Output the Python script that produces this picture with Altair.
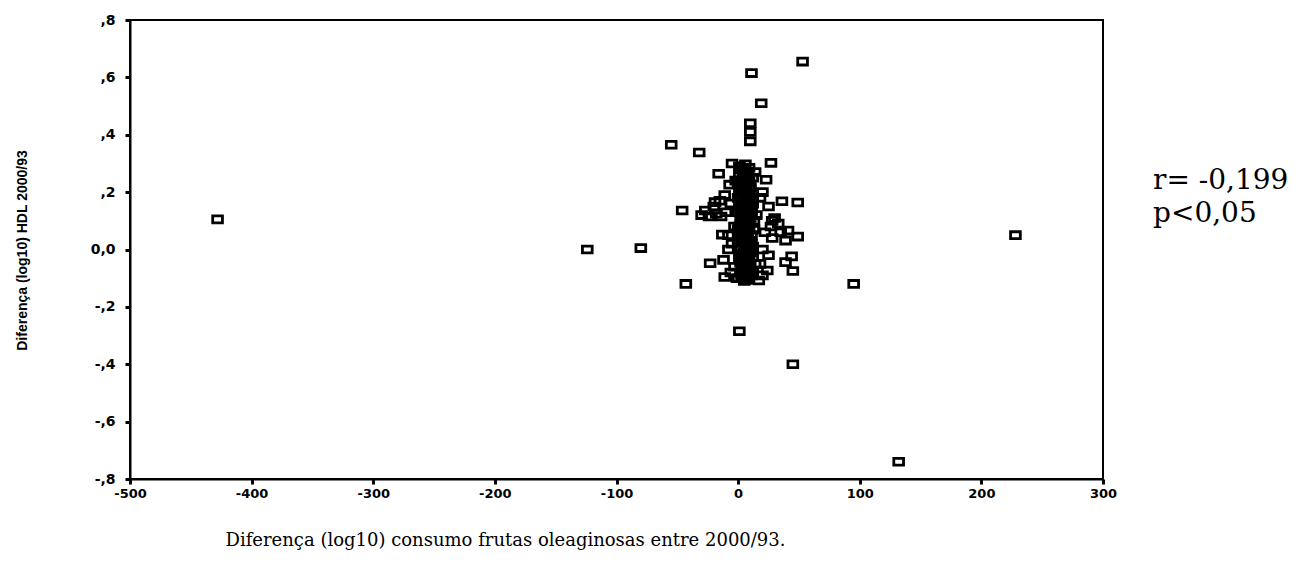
import altair as alt
import pandas as pd

# scattered points (x = diferença consumo, y = diferença HDL)
x_out = [-428, -124, -80, -43, 95, 1, 45, 132, 228,
         53, 11, 19, 10, 10, 10, -55, -32, -5, 6, 27, -16, -7, 23, -11, 36, 49,
         -46, -27, -19, -24, -14, -13, -5, -8, 41, 49, 39, 44, 39, 45, -23, -12,
         -11, 17, 24, 28,
         -20, -15, -10, -30, -18, -6, -3, 20, 25, 30, 33, 22, 28, 20, 25, 18, 20,
         -3, -6, -8, 14, 18, 15, 27, 35, -2, -1]
y_out = [0.105, 0.0, 0.005, -0.12, -0.12, -0.285, -0.40, -0.74, 0.05,
         0.655, 0.615, 0.51, 0.44, 0.41, 0.377, 0.365, 0.338, 0.30, 0.297, 0.302, 0.264, 0.226, 0.243, 0.19, 0.168, 0.164,
         0.136, 0.136, 0.165, 0.115, 0.115, 0.052, 0.02, 0.0, 0.066, 0.045, 0.031, -0.024, -0.044, -0.075, -0.048, -0.036,
         -0.096, -0.108, -0.073, 0.10,
         0.15, 0.17, 0.13, 0.12, 0.125, 0.16, 0.08, 0.20, 0.15, 0.11, 0.09, 0.06, 0.04, 0.0, -0.02, -0.05, -0.09,
         -0.06, -0.08, 0.05, 0.27, 0.18, 0.12, 0.08, 0.06, 0.24, -0.10]

# dense column near zero
x_col = [2, 5, 8, 3, 6, 10, 1, 4, 7, 9, 12, 2, 5, 8, 11, 3, 6, 0, 4, 7,
         10, 13, 2, 5, 9, 1, 6, 8, 3, 11, 4, 7, 0, 5, 9, 12, 2, 6, 10, 3,
         8, 1, 5, 7, 14, 4, 9, 2, 6, 11, 0, 3, 8, 5, 10, 7, 1, 4, 12, 6,
         9, 2, 5, 8, 3, 7, 13, 1, 4, 10, 6, 2, 9, 5, 11, 3, 8, 0, 7, 4,
         12, 6, 2, 9, 5, 1, 10, 3, 8, 6, 4, 11, 7, 2, 5, 9, 0, 3, 13, 6,
         4, 7, 10, 2, 5, 8, 11, 3, 6, 9, 1, 4, 7, 10, 12, 2, 5, 8, 3, 6,
         9, 0, 4, 7, 11, 2, 5, 8, 3, 6, 10, 1, 4, 7, 9, 12, 2, 5, 8, 6]
y_col = [0.28, 0.26, 0.27, 0.24, 0.25, 0.22, 0.21, 0.23, 0.20, 0.19, 0.18, 0.17, 0.19, 0.16, 0.15, 0.14, 0.17, 0.13, 0.12, 0.15,
         0.11, 0.10, 0.09, 0.12, 0.13, 0.08, 0.10, 0.07, 0.06, 0.05, 0.08, 0.04, 0.03, 0.05, 0.02, 0.01, 0.00, 0.02, -0.01, -0.02,
         0.00, -0.03, -0.04, -0.02, -0.05, -0.06, -0.07, -0.08, -0.05, -0.09, -0.10, -0.09, -0.10, -0.11, -0.08, -0.06, 0.29, 0.27, 0.25, 0.22,
         0.21, 0.20, 0.18, 0.14, 0.11, 0.09, 0.07, 0.16, 0.06, 0.03, 0.04, 0.01, -0.03, -0.01, 0.12, 0.14, 0.09, 0.07, -0.04, -0.07,
         0.16, 0.19, 0.23, 0.24, 0.28, 0.26, 0.17, 0.10, 0.05, -0.09, -0.10, 0.02, 0.13, 0.15, 0.03, 0.11, 0.18, -0.05, 0.07, 0.00,
         0.265, 0.245, 0.215, 0.195, 0.175, 0.155, 0.135, 0.115, 0.095, 0.075, 0.055, 0.035, 0.015, -0.005, -0.025, -0.045, -0.065, -0.085, -0.095, -0.105,
         0.285, 0.235, 0.205, 0.185, 0.145, 0.125, 0.105, 0.085, 0.065, 0.045, 0.025, 0.005, -0.015, -0.035, -0.055, -0.075, 0.225, 0.165, -0.105, 0.255]

x_ticks = [-500, -400, -300, -200, -100, 0, 100, 200, 300]
y_ticks = [0.8, 0.6, 0.4, 0.2, 0.0, -0.2, -0.4, -0.6, -0.8]

df = pd.DataFrame({"x": x_out + x_col, "y": y_out + y_col})

rect_path = "M-1,-0.7L1,-0.7L1,0.7L-1,0.7Z"

points = alt.Chart(df).mark_point(
    shape=rect_path, filled=False, color="black", strokeWidth=2.8, size=95, opacity=1
).encode(
    x=alt.X("x:Q", scale=alt.Scale(domain=[-500, 300], nice=False, zero=False),
            axis=alt.Axis(values=x_ticks, title="Diferença  (log10) consumo frutas oleaginosas entre 2000/93.",
                          labelExpr="replace(datum.label, '\u2212', '-')",
                          titleFont="DejaVu Serif", titleFontSize=18, titleFontWeight="normal",
                          titleAnchor="start", titleAlign="left", titleX=95, titleY=52,
                          labelFont="DejaVu Sans", labelFontWeight="bold", labelFontSize=13,
                          labelPadding=3, labelFlush=False)),
    y=alt.Y("y:Q", scale=alt.Scale(domain=[-0.8, 0.8], nice=False, zero=False),
            axis=alt.Axis(values=y_ticks, title="Diferença (log10) HDL 2000/93",
                          labelExpr="datum.value == 0 ? '0,0' : replace(replace(format(datum.value, '.1f'), '0.', ','), '\u2212', '-')",
                          titleFont="Liberation Sans", titleFontSize=14, titleFontWeight="bold",
                          titleX=-108, titleY=230, titleAngle=-90, titleAlign="center", titleBaseline="middle",
                          labelFont="DejaVu Sans", labelFontWeight="bold", labelFontSize=14,
                          labelPadding=10, labelFlush=False))
)

annot = alt.Chart(pd.DataFrame({"t": ["r= -0,199\np<0,05"]})).mark_text(
    font="DejaVu Serif", fontSize=28, align="left", baseline="middle",
    lineBreak="\n", lineHeight=33, color="black", dx=50
).encode(
    x=alt.datum(300), y=alt.datum(0.24), text="t:N"
)

chart = (points + annot).properties(
    width=973, height=459,
    autosize=alt.AutoSizeParams(type="none"),
    padding={"left": 130, "top": 20, "right": 200, "bottom": 84}
).configure_view(
    stroke="black", strokeWidth=2
).configure_axis(
    grid=False, domainColor="black", domainWidth=2, tickColor="black", tickWidth=3,
    tickSize=5, labelColor="black", titleColor="black"
)

chart.save("out.html", embed_options={"renderer": "svg", "actions": False})
